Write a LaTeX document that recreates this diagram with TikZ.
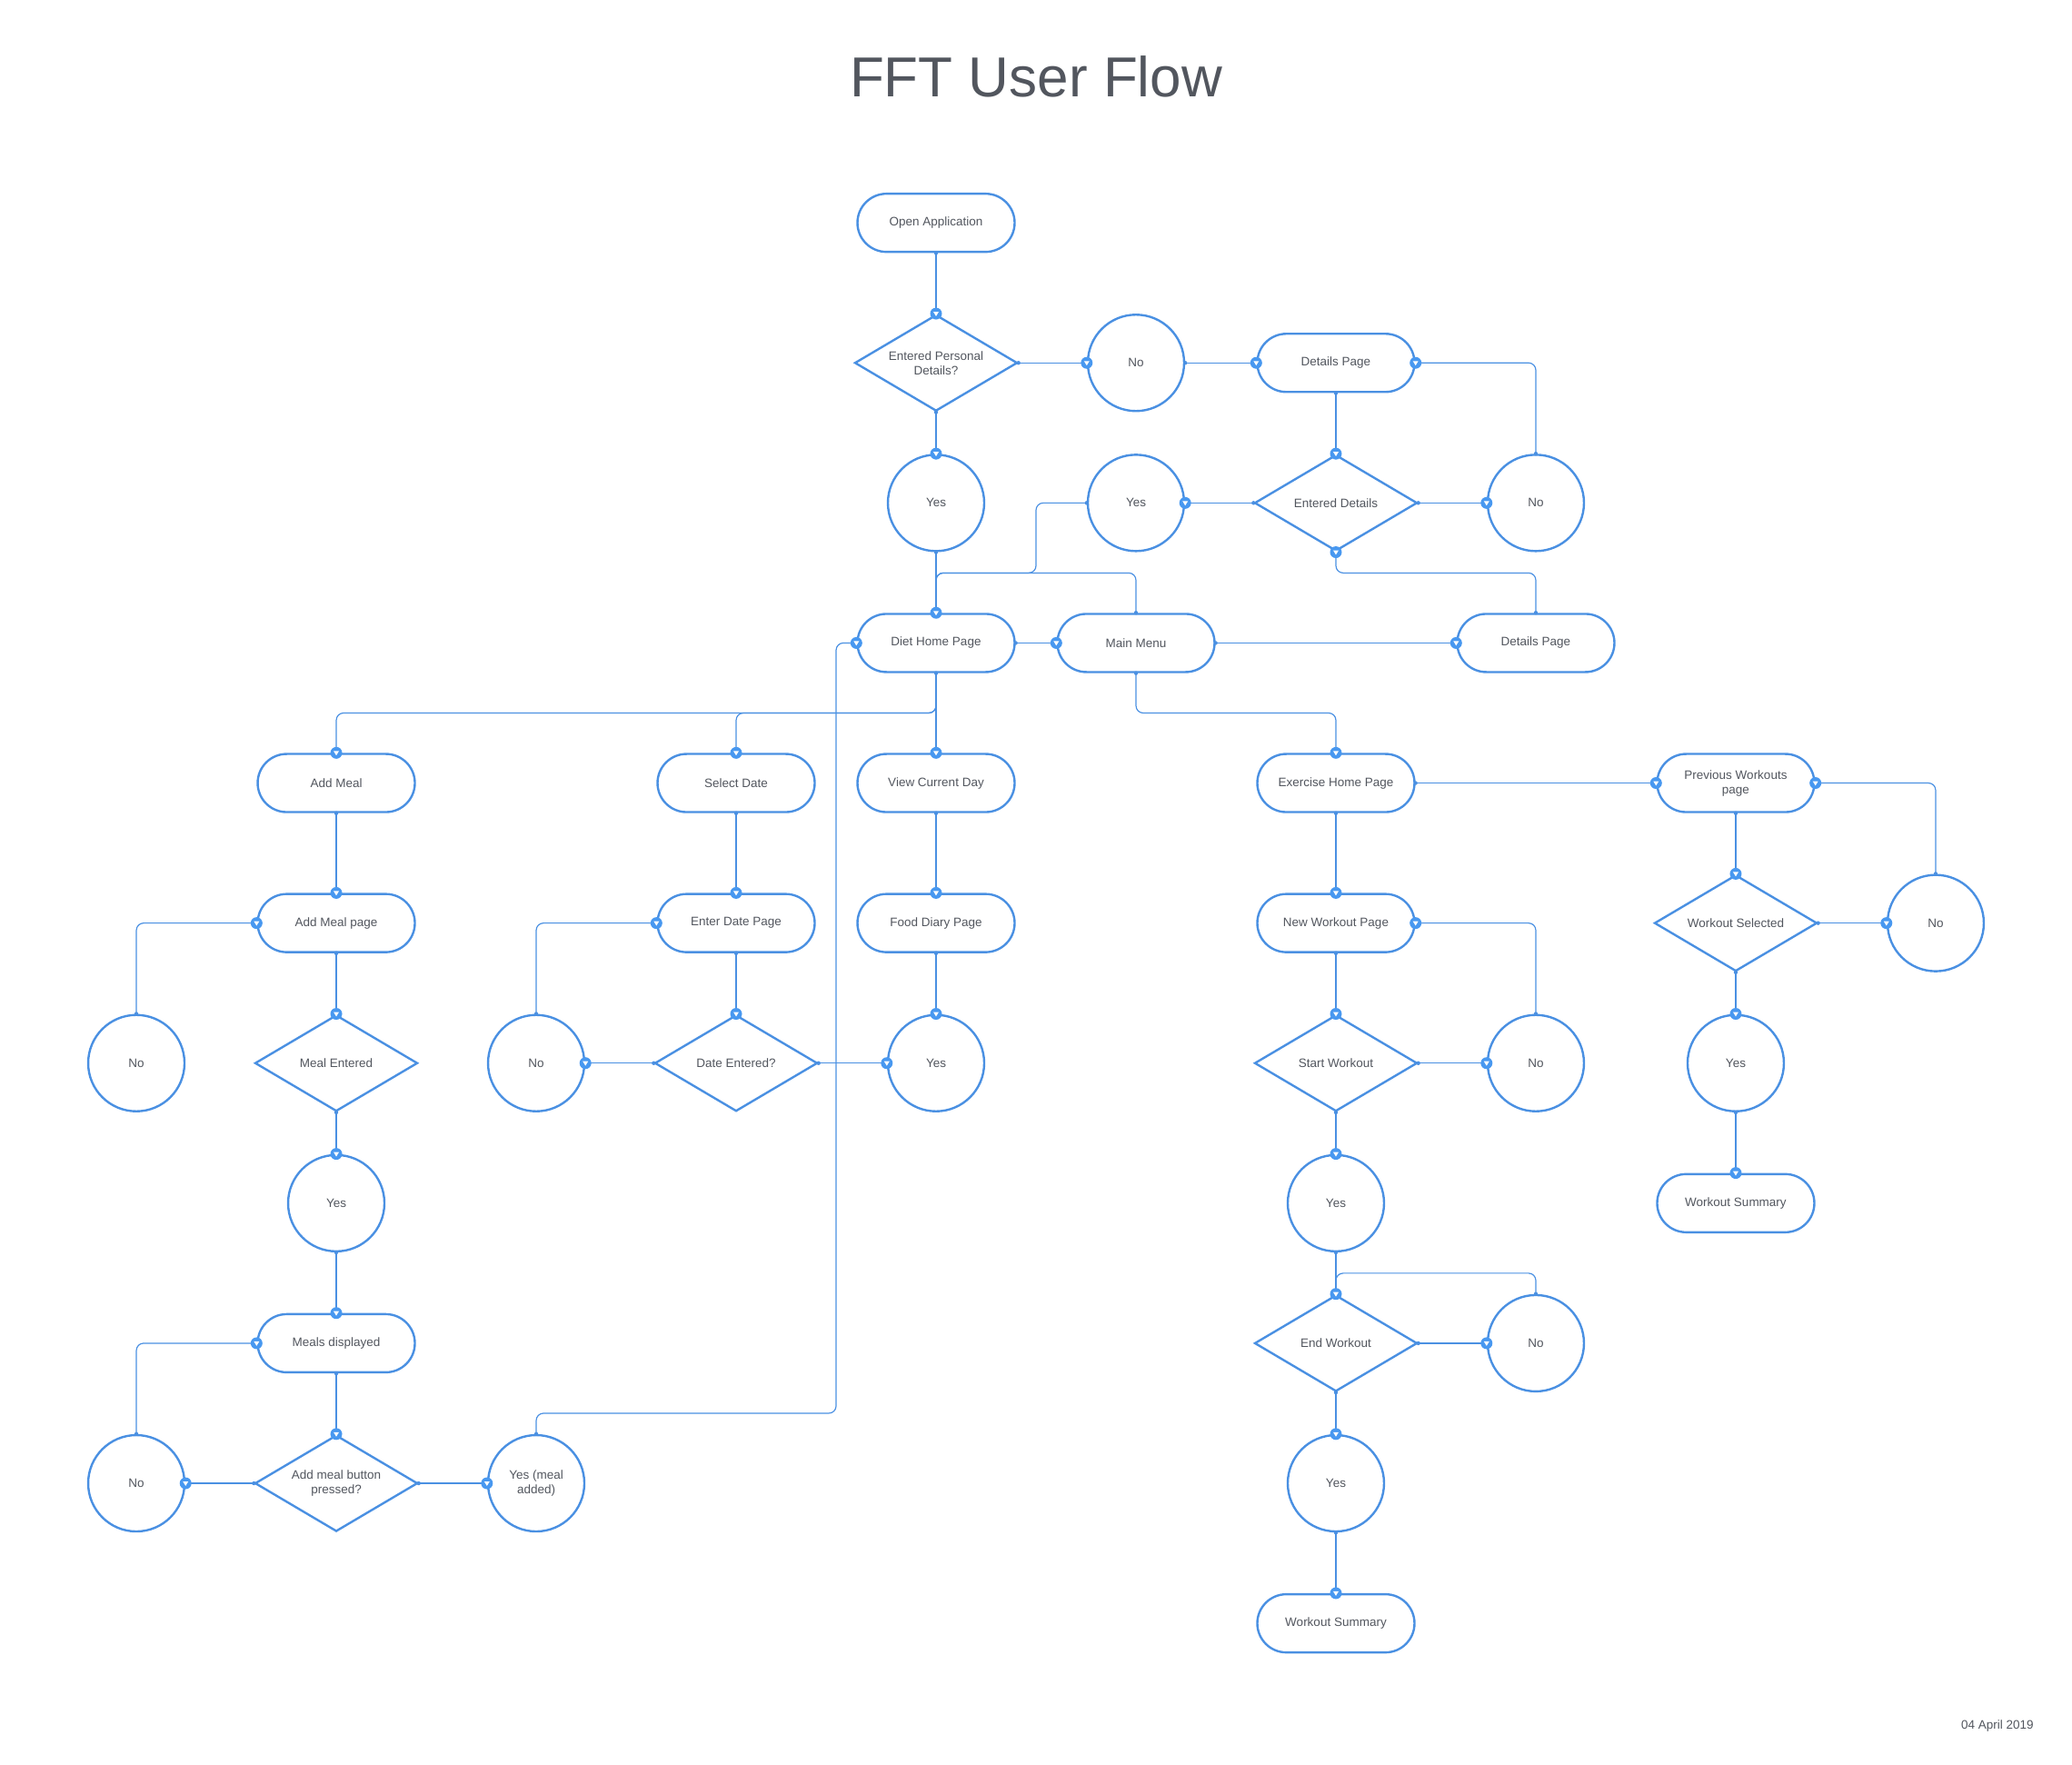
\documentclass[tikz,border=0pt]{standalone}
\usepackage{fontspec}
\setmainfont{Liberation Sans}
\usepackage{tikz}
\usetikzlibrary{positioning, shapes, arrows.meta, calc}
\definecolor{flowblue}{RGB}{74,144,226}
\definecolor{pinblue}{RGB}{72,152,240}
\definecolor{flowtext}{RGB}{82,86,94}

\begin{document}
\begin{tikzpicture}[x=220pt, y=-154.1pt,
    every node/.style={text=flowtext, font=\fontsize{13.5}{16}\selectfont, align=center},
    term/.style={draw=flowblue, line width=2.4pt, rectangle, rounded corners=32pt, minimum width=173pt, minimum height=64pt, inner sep=0pt},
    dec/.style={draw=flowblue, line width=2.4pt, diamond, shape aspect=1.69, minimum width=179pt, minimum height=106pt, inner sep=0pt},
    ans/.style={draw=flowblue, line width=2.4pt, circle, minimum size=106pt, inner sep=0pt},
    link/.style={draw=flowblue, line width=1.2pt, rounded corners=8pt}]
    \useasboundingbox (-0.682,-1.591) rectangle (9.682,11.011);

    % Title and date
    \node[font=\fontsize{62}{70}\selectfont] (title) at (4.5,-1.045) {FFT User Flow};
    \node (date) at (9.309,10.73) {04 April 2019};

    % Nodes
    \node[term] (open) at (4,0) {Open Application};
    \node[dec] (epd) at (4,1) {Entered Personal\\Details?};
    \node[ans] (no1) at (5,1) {No};
    \node[term] (dp1) at (6,1) {Details Page};
    \node[ans] (yes1) at (4,2) {Yes};
    \node[ans] (yes2) at (5,2) {Yes};
    \node[dec] (ed) at (6,2) {Entered Details};
    \node[ans] (no2) at (7,2) {No};
    \node[term] (dh) at (4,3) {Diet Home Page};
    \node[term] (mm) at (5,3) {Main Menu};
    \node[term] (dp2) at (7,3) {Details Page};

    \node[term] (addmeal) at (1,4) {Add Meal};
    \node[term] (seldate) at (3,4) {Select Date};
    \node[term] (viewday) at (4,4) {View Current Day};
    \node[term] (exhome) at (6,4) {Exercise Home Page};
    \node[term] (prevwo) at (8,4) {Previous Workouts\\page};

    \node[term] (ampage) at (1,5) {Add Meal page};
    \node[term] (edpage) at (3,5) {Enter Date Page};
    \node[term] (diary) at (4,5) {Food Diary Page};
    \node[term] (nwpage) at (6,5) {New Workout Page};
    \node[dec] (wosel) at (8,5) {Workout Selected};
    \node[ans] (nows) at (9,5) {No};

    \node[ans] (noam) at (0,6) {No};
    \node[dec] (me) at (1,6) {Meal Entered};
    \node[ans] (noed) at (2,6) {No};
    \node[dec] (de) at (3,6) {Date Entered?};
    \node[ans] (yesdd) at (4,6) {Yes};
    \node[dec] (sw) at (6,6) {Start Workout};
    \node[ans] (nosw) at (7,6) {No};
    \node[ans] (yesws) at (8,6) {Yes};

    \node[ans] (yesme) at (1,7) {Yes};
    \node[ans] (yessw) at (6,7) {Yes};
    \node[term] (sum2) at (8,7) {Workout Summary};

    \node[term] (md) at (1,8) {Meals displayed};
    \node[dec] (ew) at (6,8) {End Workout};
    \node[ans] (noew) at (7,8) {No};

    \node[ans] (nomd) at (0,9) {No};
    \node[dec] (amb) at (1,9) {Add meal button\\pressed?};
    \node[ans] (yesadd) at (2,9) {Yes (meal\\added)};
    \node[ans] (yesew) at (6,9) {Yes};

    \node[term] (sum1) at (6,10) {Workout Summary};

    % Arrows
    \draw[link] (open.south) -- (epd.north);
    \draw[link] (epd.east) -- (no1.west);
    \draw[link] (no1.east) -- (dp1.west);
    \draw[link] (no2.north) |- (dp1.east);
    \draw[link] (dp1.south) -- (ed.north);
    \draw[link] (ed.west) -- (yes2.east);
    \draw[link] (ed.east) -- (no2.west);
    \draw[link] (dp2.north) |- (6,2.5) -- (ed.south);
    \draw[link] (epd.south) -- (yes1.north);
    \draw[link] (yes1.south) -- (dh.north);
    \draw[link] (yes2.west) -| (4.5,2.5) -| (dh.north);
    \draw[link] (mm.north) |- (4,2.5) -- (dh.north);
    \draw[link] (dh.east) -- (mm.west);
    \draw[link] (mm.east) -- (dp2.west);
    \draw[link] (mm.south) |- (6,3.5) -- (exhome.north);
    \draw[link] (dh.south) -- (viewday.north);
    \draw[link] (dh.south) |- (1,3.5) -- (addmeal.north);
    \draw[link] (dh.south) |- (3,3.5) -- (seldate.north);

    \draw[link] (addmeal.south) -- (ampage.north);
    \draw[link] (noam.north) |- (ampage.west);
    \draw[link] (ampage.south) -- (me.north);
    \draw[link] (me.south) -- (yesme.north);
    \draw[link] (yesme.south) -- (md.north);
    \draw[link] (nomd.north) |- (md.west);
    \draw[link] (md.south) -- (amb.north);
    \draw[link] (amb.west) -- (nomd.east);
    \draw[link] (amb.east) -- (yesadd.west);
    \draw[link] (yesadd.north) |- (3.5,8.5) |- (dh.west);

    \draw[link] (seldate.south) -- (edpage.north);
    \draw[link] (noed.north) |- (edpage.west);
    \draw[link] (edpage.south) -- (de.north);
    \draw[link] (de.west) -- (noed.east);
    \draw[link] (de.east) -- (yesdd.west);
    \draw[link] (viewday.south) -- (diary.north);
    \draw[link] (diary.south) -- (yesdd.north);

    \draw[link] (exhome.east) -- (prevwo.west);
    \draw[link] (exhome.south) -- (nwpage.north);
    \draw[link] (nosw.north) |- (nwpage.east);
    \draw[link] (nwpage.south) -- (sw.north);
    \draw[link] (sw.east) -- (nosw.west);
    \draw[link] (sw.south) -- (yessw.north);
    \draw[link] (yessw.south) -- (ew.north);
    \draw[link] (noew.north) |- (6,7.5) -- (ew.north);
    \draw[link] (ew.east) -- (noew.west);
    \draw[link] (ew.south) -- (yesew.north);
    \draw[link] (yesew.south) -- (sum1.north);
    \draw[link] (nows.north) |- (prevwo.east);
    \draw[link] (prevwo.south) -- (wosel.north);
    \draw[link] (wosel.east) -- (nows.west);
    \draw[link] (wosel.south) -- (yesws.north);
    \draw[link] (yesws.south) -- (sum2.north);

    % Start dots
    \foreach \p in {open.south, epd.east, no1.east, no2.north, dp1.south, ed.west, ed.east, dp2.north,
        epd.south, yes1.south, yes2.west, mm.north, dh.east, mm.east, mm.south, dh.south,
        addmeal.south, noam.north, ampage.south, me.south, yesme.south, nomd.north, md.south,
        amb.west, amb.east, yesadd.north, seldate.south, noed.north, edpage.south, de.west, de.east,
        viewday.south, diary.south, exhome.east, exhome.south, nosw.north, nwpage.south, sw.east,
        sw.south, yessw.south, noew.north, ew.east, ew.south, yesew.south, nows.north, prevwo.south,
        wosel.east, wosel.south, yesws.south}
    \fill[flowblue] (\p) circle (2.2pt);

    % End pins
    \foreach \p in {epd.north, no1.west, dp1.west, dp1.east, ed.north, yes2.east, no2.west, ed.south,
        yes1.north, dh.north, mm.west, dp2.west, exhome.north, viewday.north, addmeal.north,
        seldate.north, ampage.north, ampage.west, me.north, yesme.north, md.north, md.west, amb.north,
        nomd.east, yesadd.west, dh.west, edpage.north, edpage.west, de.north, noed.east, yesdd.west,
        diary.north, yesdd.north, prevwo.west, nwpage.north, nwpage.east, sw.north, nosw.west,
        yessw.north, ew.north, noew.west, yesew.north, sum1.north, prevwo.east, wosel.north,
        nows.west, yesws.north, sum2.north}
    {
        \fill[pinblue] (\p) circle (6.5pt);
        \fill[white, shift={(\p)}] (-3pt,2pt) -- (3pt,2pt) -- (0pt,-2.9pt) -- cycle;
    }
\end{tikzpicture}
\end{document}
